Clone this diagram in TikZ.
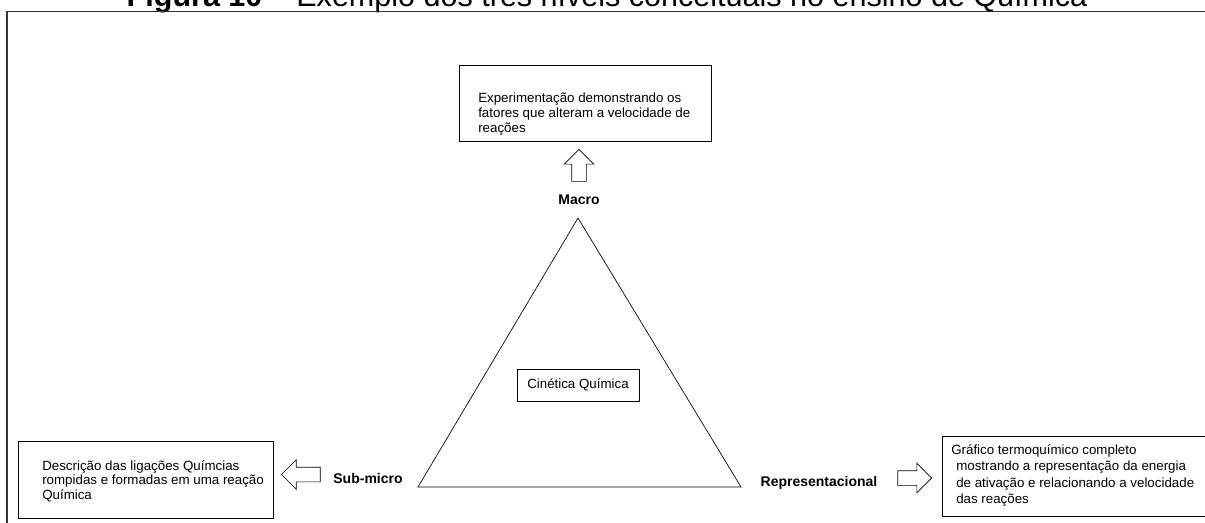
\documentclass[tikz,border=0pt]{standalone}
\usepackage{fontspec}
\setmainfont{Liberation Sans}
\usetikzlibrary{shapes.arrows}
\tikzset{
    text-box/.style = {draw, line width=0.6pt, rectangle, anchor=north west, inner sep=0pt},
    box-text/.style = {anchor=north west, inner sep=0pt, align=left, font=\fontsize{10}{11}\selectfont},
    level-label/.style = {font=\fontsize{10.5}{12}\selectfont\bfseries, inner sep=0pt},
    block-arrow/.style = {draw, line width=0.5pt, single arrow, single arrow head extend=5.6pt, single arrow tip angle=90, minimum width=21.75pt, inner xsep=0pt, inner ysep=5.25pt},
}

\begin{document}
\begin{tikzpicture}[x=0.75pt, y=-0.75pt]
\useasboundingbox (0,0) rectangle (1205,522);
% title, only its lower part is on the page
\node[font=\fontsize{22.9}{26}\selectfont, anchor=base, inner sep=0pt] (title) at (607,6) {\textbf{Figura 10} – Exemplo dos três níveis conceituais no ensino de Química};
\draw[line width=0.9pt, draw=black!80] (7,560) -- (7,11.5) -- (1230,11.5) -- (1230,560);

% the triangle
\coordinate (apex) at (578,218);
\coordinate (base-left) at (418,487);
\coordinate (base-right) at (741,487);
\draw[line width=0.5pt] (apex) -- (base-right) -- (base-left) -- cycle;
\node[draw, line width=0.6pt, minimum width=91.5pt, minimum height=24pt, font=\fontsize{10}{11}\selectfont] (kinetics) at (578,385) {Cinética Química};

% Macro
\node[level-label] (macro-label) at (579,200) {Macro};
\node[block-arrow, minimum height=24pt, rotate=90] (macro-arrow) at (579,169) {};
\node[text-box, minimum width=189pt, minimum height=57pt] (macro-box) at (459,65) {};
\node[box-text] (macro-text) at (478,93) {Experimentação demonstrando os\\fatores que alteram a velocidade de\\reações};

% Sub-micro
\node[level-label] (submicro-label) at (368,478) {Sub-micro};
\node[block-arrow, minimum height=29pt, rotate=180] (submicro-arrow) at (304.5,474.5) {};
\node[text-box, minimum width=191.25pt, minimum height=57.75pt] (submicro-box) at (18,441) {};
\node[box-text] (submicro-text) at (42,460) {Descrição das ligações Químcias\\rompidas e formadas em uma reação\\Química};

% Representacional
\node[level-label] (repr-label) at (819,483) {Representacional};
\node[block-arrow, minimum height=25.5pt] (repr-arrow) at (911,478) {};
\node[text-box, minimum width=210pt, minimum height=60pt] (repr-box) at (942,436) {};
\node[box-text, font=\fontsize{10}{12.2}\selectfont] (repr-text) at (951,444.5) {Gráfico termoquímico completo\\\hspace*{3.75pt}mostrando a representação da energia\\\hspace*{3.75pt}de ativação e relacionando a velocidade\\\hspace*{3.75pt}das reações};
\end{tikzpicture}
\end{document}
